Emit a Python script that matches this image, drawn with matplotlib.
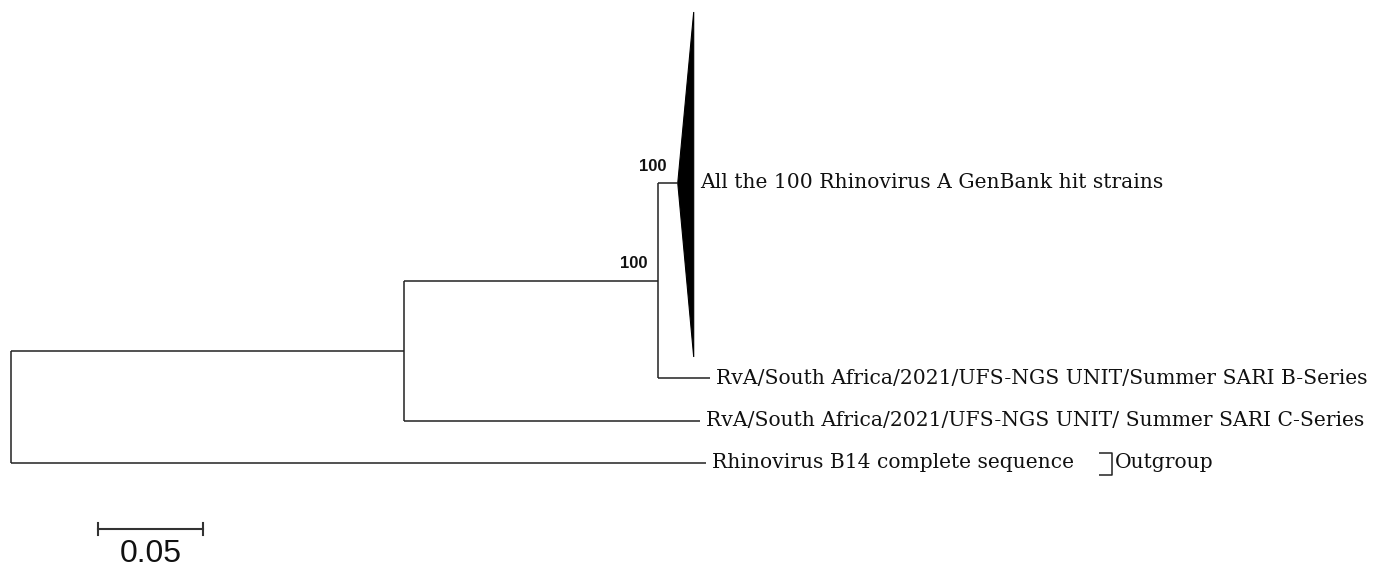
import matplotlib
matplotlib.use("Agg")
from matplotlib import pyplot as plt
from matplotlib.patches import Polygon

# branch lengths (substitutions per site)
root_to_a = 0.187
root_to_outgroup = 0.331
a_to_b = 0.121
a_to_c_series = 0.141
b_to_b_series = 0.025
b_to_clade = 0.0095
clade_depth = 0.0076

bootstrap = [100, 100]  # node B (clade), node A->B
scale_length = 0.05

clade_label = "All the 100 Rhinovirus A GenBank hit strains"
b_series_label = "RvA/South Africa/2021/UFS-NGS UNIT/Summer SARI B-Series"
c_series_label = "RvA/South Africa/2021/UFS-NGS UNIT/ Summer SARI C-Series"
outgroup_label = "Rhinovirus B14 complete sequence"
outgroup_tag = "Outgroup"

# vertical layout (pixel rows, top = 0)
y_clade_top, y_clade_mid, y_clade_bottom = 12, 183, 357
y_b_series = 378
y_c_series = 421
y_outgroup = 463

W, H = 1386, 570
PX_PER_UNIT = 2100
ROOT_PX = 11

fig = plt.figure(figsize=(W / 100, H / 100), dpi=100)
ax = fig.add_axes([0, 0, 1, 1])
ax.set_xlim(-ROOT_PX / PX_PER_UNIT, (W - ROOT_PX) / PX_PER_UNIT)
ax.set_ylim(H, 0)
ax.axis("off")

line_kw = dict(color="#222222", lw=1.1, solid_capstyle="butt")
serif = dict(family="DejaVu Serif", fontsize=14.6, va="center", color="#111111")

# node positions
x_root = 0.0
x_a = x_root + root_to_a
x_b = x_a + a_to_b
y_b = (y_clade_mid + y_b_series) / 2
y_a = (y_b + y_c_series) / 2

# root
ax.plot([x_root, x_root], [y_a, y_outgroup], **line_kw)
ax.plot([x_root, x_a], [y_a, y_a], **line_kw)
ax.plot([x_root, x_root + root_to_outgroup], [y_outgroup, y_outgroup], **line_kw)

# node A
ax.plot([x_a, x_a], [y_b, y_c_series], **line_kw)
ax.plot([x_a, x_b], [y_b, y_b], **line_kw)
ax.plot([x_a, x_a + a_to_c_series], [y_c_series, y_c_series], **line_kw)

# node B
ax.plot([x_b, x_b], [y_clade_mid, y_b_series], **line_kw)
ax.plot([x_b, x_b + b_to_clade], [y_clade_mid, y_clade_mid], **line_kw)
ax.plot([x_b, x_b + b_to_b_series], [y_b_series, y_b_series], **line_kw)

# collapsed clade
x_apex = x_b + b_to_clade
x_base = x_apex + clade_depth
ax.add_patch(Polygon([(x_apex, y_clade_mid), (x_base, y_clade_top),
                      (x_base, y_clade_bottom)], closed=True,
                     facecolor="black", edgecolor="black", lw=0.8))

# tip labels
pad = 6 / PX_PER_UNIT
ax.text(x_base + pad, y_clade_mid, clade_label, **serif)
ax.text(x_b + b_to_b_series + pad, y_b_series, b_series_label, **serif)
ax.text(x_a + a_to_c_series + pad, y_c_series, c_series_label, **serif)
ax.text(x_root + root_to_outgroup + pad, y_outgroup, outgroup_label, **serif)

# outgroup bracket
bx0 = (1099 - ROOT_PX) / PX_PER_UNIT
bx1 = (1112 - ROOT_PX) / PX_PER_UNIT
ax.plot([bx0, bx1, bx1, bx0], [453, 453, 475, 475], **line_kw)
ax.text(bx1 + 3 / PX_PER_UNIT, y_outgroup, outgroup_tag, **serif)

# bootstrap values
boot_kw = dict(family="Liberation Sans", fontsize=12, fontweight="bold",
               ha="right", va="bottom", color="#111111")
ax.text(x_b + 9 / PX_PER_UNIT, y_clade_mid - 9, str(bootstrap[0]), **boot_kw)
ax.text(x_b - 10 / PX_PER_UNIT, y_b - 9, str(bootstrap[1]), **boot_kw)

# scale bar
sx0 = (98 - ROOT_PX) / PX_PER_UNIT
sy = 529
ax.plot([sx0, sx0 + scale_length], [sy, sy], color="#333333", lw=1.5)
for x in (sx0, sx0 + scale_length):
    ax.plot([x, x], [sy - 6, sy + 6], color="#333333", lw=1.5)
ax.text(sx0 + scale_length / 2, sy + 10, f"{scale_length:.2f}",
        family="Liberation Sans", fontsize=23, ha="center", va="top",
        color="#111111")

fig.savefig("out.png", dpi=100)
